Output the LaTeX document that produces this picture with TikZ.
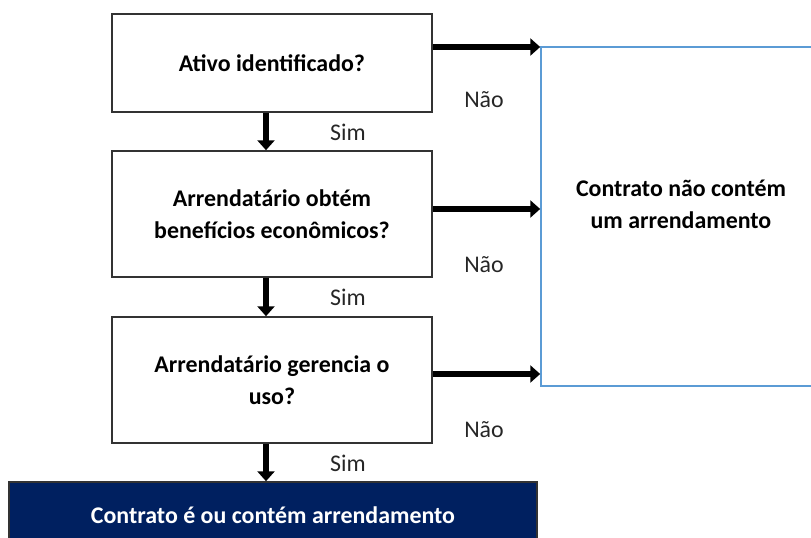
\documentclass[tikz,border=0pt]{standalone}
\usepackage{fontspec}
\setmainfont{Carlito}
\usetikzlibrary{arrows.meta, calc, positioning}
\definecolor{navyfill}{HTML}{002060}
\definecolor{skyline}{HTML}{5B9BD5}
\tikzset{
  qbox/.style={draw=black!80, line width=1.1pt, minimum width=8cm, minimum height=#1, align=center, font=\fontsize{17}{23}\selectfont\bfseries},
  endbox/.style={fill=navyfill, draw=black!80, line width=1.1pt, minimum width=13.2cm, minimum height=1.65cm, text=white, font=\fontsize{17}{23}\selectfont\bfseries},
  nobox/.style={draw=skyline, line width=1.1pt, minimum width=7cm, minimum height=8.475cm},
  note/.style={font=\fontsize{17}{23}\selectfont, text=black!85},
  flow/.style={line width=3.6pt, -{Triangle[length=7pt, width=12pt]}}
}

\begin{document}
\begin{tikzpicture}[x=0.025cm, y=-0.025cm]
            \useasboundingbox (0,0) rectangle (811,538);
            \clip (0,0) rectangle (811,538);

            \node[qbox=2.45cm] (q1) at (272,63) {Ativo identificado?};
            \node[qbox=3.15cm] (q2) at (272,214) {Arrendatário obtém\\benefícios econômicos?};
            \node[qbox=3.15cm] (q3) at (272,380) {Arrendatário gerencia o\\uso?};
            \node[endbox] (lease) at (273,515) {Contrato é ou contém arrendamento};
            \node[nobox, label={[align=center, font=\fontsize{17}{23}\selectfont\bfseries, yshift=0.3cm]center:Contrato não contém\\um arrendamento}] (nolease) at (681,216.5) {};

            \coordinate (n1) at ($(q1.east)+(0,-16)$);
            \coordinate (n2) at ($(q2.east)+(0,-5)$);
            \coordinate (n3) at ($(q3.east)+(0,-6)$);
            \draw[flow] (n1) -- (n1 -| nolease.west);
            \draw[flow] (n2) -- (n2 -| nolease.west);
            \draw[flow] (n3) -- (n3 -| nolease.west);

            \draw[flow] ($(q1.south)+(-6,0)$) -- ($(q2.north)+(-6,0)$);
            \draw[flow] ($(q2.south)+(-6,0)$) -- ($(q3.north)+(-6,0)$);
            \draw[flow] ($(q3.south)+(-6,0)$) -- ($(lease.north)+(-7,0)$);

            \node[note] (no1) at (484,100) {Não};
            \node[note] (no2) at (484,265) {Não};
            \node[note] (no3) at (484,430) {Não};
            \node[note] (yes1) at (348,132) {Sim};
            \node[note] (yes2) at (348,297) {Sim};
            \node[note] (yes3) at (348,463) {Sim};
        \end{tikzpicture}
\end{document}
